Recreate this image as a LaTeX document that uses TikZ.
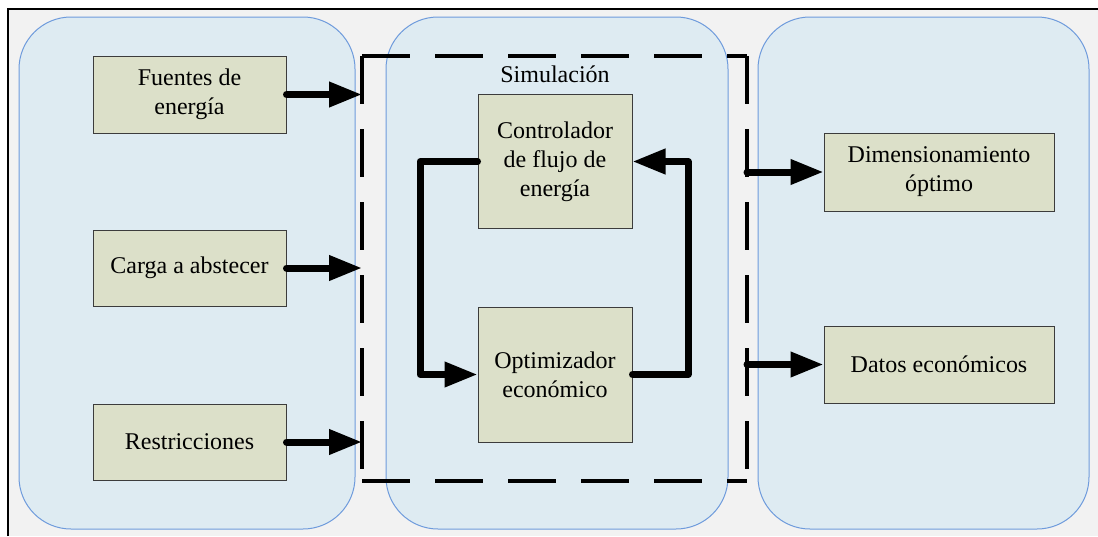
\documentclass[tikz,border=0pt]{standalone}
\usepackage{fontspec}
\setmainfont{Liberation Serif}
\usetikzlibrary{arrows.meta}
\definecolor{bggray}{RGB}{242,242,242}
\definecolor{panelfill}{RGB}{222,235,242}
\definecolor{panelline}{RGB}{110,155,220}
\definecolor{boxfill}{RGB}{220,224,201}
\definecolor{boxline}{RGB}{60,60,60}
\tikzset{
  panel/.style={fill=panelfill, draw=panelline, line width=1pt, rounded corners=52pt},
  blockbox/.style={fill=boxfill, draw=boxline, line width=1pt, align=center, inner sep=0pt,
    font=\fontsize{24}{29}\selectfont},
  bigarrow/.style={line width=7pt, line cap=round, line join=round, -{Triangle[length=33pt,width=24pt]}},
  dashside/.style={line width=4pt, dash pattern=on 48pt off 25pt},
}
\begin{document}
\begin{tikzpicture}[x=1pt,y=-1pt]
\useasboundingbox (0,0) rectangle (1098,536);
\fill[white] (0,0) rectangle (1098,536);
\fill[bggray] (8,9) rectangle (1098,536);
\draw[line width=1.5pt] (8,536) -- (8,9) -- (1098,9);
% panels
\draw[panel] (19,17) rectangle (355,529);
\draw[panel] (386,17) rectangle (728,529);
\draw[panel] (758,17) rectangle (1089,529);
% dashed simulation frame
\coordinate (dTL) at (362,56);
\coordinate (dTR) at (747,56);
\coordinate (dBL) at (362,481);
\coordinate (dBR) at (747,481);
\draw[dashside] (dTL) -- (dTR);
\draw[dashside] (dBL) -- (dBR);
\draw[dashside] (dTL) -- (dBL);
\draw[dashside] (dTR) -- (dBR);
\node[font=\fontsize{24}{29}\selectfont] (sim) at (555,74) {Simulación};
% blocks
\node[blockbox, minimum width=193pt, minimum height=77pt] (fue) at (189.5,94.5) {Fuentes de\\energía};
\node[blockbox, minimum width=193pt, minimum height=76pt] (car) at (189.5,268) {Carga a abstecer};
\node[blockbox, minimum width=193pt, minimum height=76pt] (res) at (189.5,442) {Restricciones};
\node[blockbox, minimum width=154pt, minimum height=134pt] (ctl) at (555,161.5) {Controlador\\de flujo de\\energía};
\node[blockbox, minimum width=154pt, minimum height=135pt] (opt) at (555,374.5) {Optimizador\\económico};
\node[blockbox, minimum width=230pt, minimum height=78pt] (dim) at (939,172) {Dimensionamiento\\óptimo};
\node[blockbox, minimum width=230pt, minimum height=77pt] (dat) at (939,364.5) {Datos económicos};
% input arrows
\draw[bigarrow] (fue.east) -- (fue.east -| dTL);
\draw[bigarrow] (car.east) -- (car.east -| dTL);
\draw[bigarrow] (res.east) -- (res.east -| dTL);
% output arrows
\draw[bigarrow] (dim.west -| dTR) -- (dim.west);
\draw[bigarrow] (dat.west -| dTR) -- (dat.west);
% feedback loop
\coordinate (lx) at (420,0);
\coordinate (rx) at (688,0);
\draw[bigarrow] (ctl.west) -- (ctl.west -| lx) -- (opt.west -| lx) -- (opt.west);
\draw[bigarrow] (opt.east) -- (opt.east -| rx) -- (ctl.east -| rx) -- (ctl.east);
\end{tikzpicture}
\end{document}
